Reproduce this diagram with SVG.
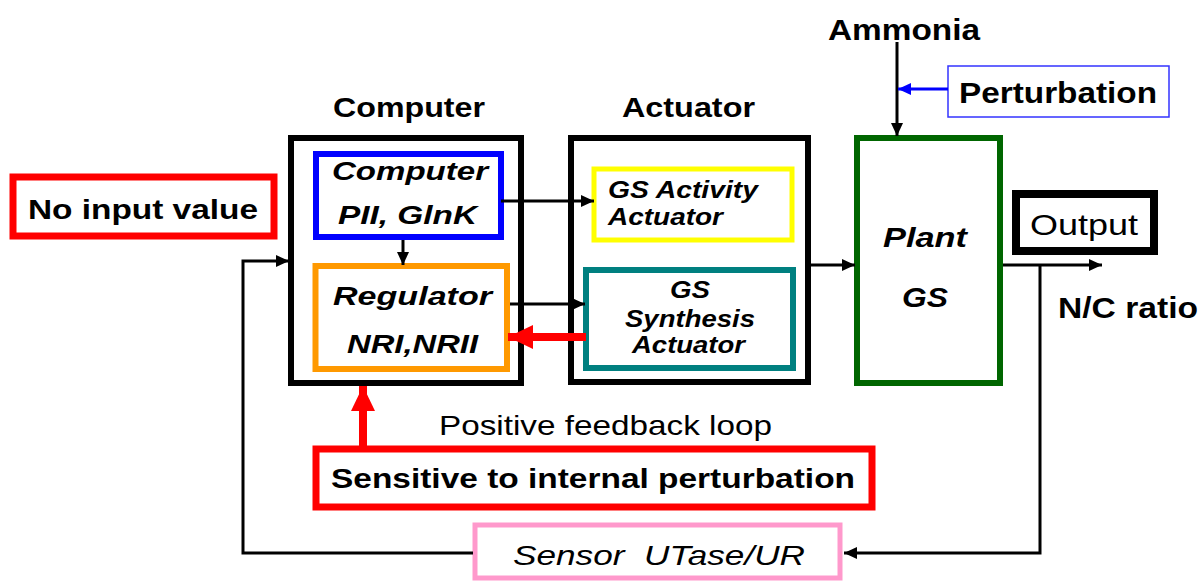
<svg xmlns="http://www.w3.org/2000/svg" width="1201" height="581" viewBox="0 0 1201 581">
  <style>
    text { font-family: "Liberation Sans", Arial, sans-serif; fill: #000; }
    .b { font-weight: bold; }
    .i { font-style: italic; }
    .box { fill: #fff; }
    .wire { fill: none; stroke: #000; stroke-width: 3; }
  </style>
  <defs>
    <marker id="ah" markerUnits="userSpaceOnUse" markerWidth="13" markerHeight="12" refX="13" refY="6" orient="auto">
      <path d="M0,0 L13,6 L0,12 z" fill="#000"/>
    </marker>
    <marker id="ahBlue" markerUnits="userSpaceOnUse" markerWidth="13" markerHeight="12" refX="13" refY="6" orient="auto">
      <path d="M0,0 L13,6 L0,12 z" fill="#0000ff"/>
    </marker>
    <marker id="ahRed" markerUnits="userSpaceOnUse" markerWidth="25" markerHeight="24" refX="25" refY="12" orient="auto">
      <path d="M0,0 L25,12 L0,24 z" fill="#ff0000"/>
    </marker>
  </defs>

  <rect width="1201" height="581" fill="#fff"/>

  <!-- column headings and free labels -->
  <g id="labels">
    <text class="b" x="333" y="117" font-size="28" textLength="152" lengthAdjust="spacingAndGlyphs">Computer</text>
    <text class="b" x="622" y="117" font-size="28" textLength="133" lengthAdjust="spacingAndGlyphs">Actuator</text>
    <text class="b" x="828" y="40" font-size="29" textLength="152" lengthAdjust="spacingAndGlyphs">Ammonia</text>
    <text class="b" x="1058" y="318" font-size="29" textLength="140" lengthAdjust="spacingAndGlyphs">N/C ratio</text>
    <text x="439" y="435" font-size="28" textLength="333" lengthAdjust="spacingAndGlyphs">Positive feedback loop</text>
  </g>

  <!-- computer block -->
  <g id="computer">
    <rect class="box" x="291" y="138" width="230" height="245" stroke="#000" stroke-width="6"/>
  </g>
  <g id="computer-pii-glnk">
    <rect class="box" x="316" y="154" width="185" height="83" stroke="#0000ff" stroke-width="6"/>
    <text class="b i" x="332" y="180" font-size="25" textLength="156" lengthAdjust="spacingAndGlyphs">Computer</text>
    <text class="b i" x="338" y="224" font-size="25" textLength="139" lengthAdjust="spacingAndGlyphs">PII, GlnK</text>
  </g>
  <g id="regulator">
    <rect class="box" x="315.5" y="266" width="191.5" height="103" stroke="#ff9900" stroke-width="6"/>
    <text class="b i" x="333" y="305" font-size="25" textLength="159" lengthAdjust="spacingAndGlyphs">Regulator</text>
    <text class="b i" x="347" y="353" font-size="25" textLength="131" lengthAdjust="spacingAndGlyphs">NRI,NRII</text>
  </g>

  <!-- actuator block -->
  <g id="actuator">
    <rect class="box" x="571" y="138" width="237" height="244" stroke="#000" stroke-width="6"/>
  </g>
  <g id="gs-activity-actuator">
    <rect class="box" x="594" y="169" width="198" height="71" stroke="#ffff00" stroke-width="5"/>
    <text class="b i" x="608" y="198" font-size="23" textLength="150" lengthAdjust="spacingAndGlyphs">GS Activity</text>
    <text class="b i" x="608" y="225" font-size="23" textLength="115" lengthAdjust="spacingAndGlyphs">Actuator</text>
  </g>
  <g id="gs-synthesis-actuator">
    <rect class="box" x="586" y="270" width="207" height="98" stroke="#008080" stroke-width="6"/>
    <text class="b i" x="670" y="298" font-size="23" textLength="40" lengthAdjust="spacingAndGlyphs">GS</text>
    <text class="b i" x="625" y="327" font-size="23" textLength="130" lengthAdjust="spacingAndGlyphs">Synthesis</text>
    <text class="b i" x="632" y="353" font-size="23" textLength="113" lengthAdjust="spacingAndGlyphs">Actuator</text>
  </g>

  <!-- plant -->
  <g id="plant">
    <rect class="box" x="857" y="138" width="143" height="245" stroke="#006600" stroke-width="6"/>
    <text class="b i" x="883" y="247" font-size="28" textLength="84" lengthAdjust="spacingAndGlyphs">Plant</text>
    <text class="b i" x="902" y="307" font-size="28" textLength="46" lengthAdjust="spacingAndGlyphs">GS</text>
  </g>

  <!-- annotations -->
  <g id="perturbation">
    <rect class="box" x="948" y="66" width="221" height="51" stroke="#3333ff" stroke-width="1.5"/>
    <text class="b" x="959" y="103" font-size="29" textLength="198" lengthAdjust="spacingAndGlyphs">Perturbation</text>
  </g>
  <g id="output">
    <rect class="box" x="1016" y="194" width="138" height="57" stroke="#000" stroke-width="8"/>
    <text x="1030" y="235" font-size="29" textLength="108" lengthAdjust="spacingAndGlyphs">Output</text>
  </g>
  <g id="no-input-value">
    <rect class="box" x="13" y="177" width="261" height="59" stroke="#ff0000" stroke-width="7"/>
    <text class="b" x="28" y="219" font-size="28" textLength="230" lengthAdjust="spacingAndGlyphs">No input value</text>
  </g>
  <g id="internal-perturbation">
    <rect class="box" x="316" y="449" width="556" height="58" stroke="#ff0000" stroke-width="7"/>
    <text class="b" x="331" y="488" font-size="28" textLength="524" lengthAdjust="spacingAndGlyphs">Sensitive to internal perturbation</text>
  </g>
  <g id="sensor">
    <rect class="box" x="475" y="525" width="365" height="53" stroke="#ff99cc" stroke-width="5"/>
    <text class="i" x="513" y="565" font-size="28" textLength="292" lengthAdjust="spacingAndGlyphs" xml:space="preserve">Sensor  UTase/UR</text>
  </g>

  <!-- connectors, drawn over the block outlines they cross -->
  <g id="connectors">
    <path class="wire" d="M501,201 H594" marker-end="url(#ah)"/>
    <path class="wire" d="M403,240 V265" marker-end="url(#ah)"/>
    <path class="wire" d="M510,304 H585" marker-end="url(#ah)"/>
    <path class="wire" d="M811,265 H855" marker-end="url(#ah)"/>
    <path class="wire" d="M1003,265 H1102" marker-end="url(#ah)"/>
    <path class="wire" d="M897,42 V136" marker-end="url(#ah)"/>
    <path class="wire" d="M1040,265 V553 H844" marker-end="url(#ah)"/>
    <path class="wire" d="M473,553 H243 V261 H289" marker-end="url(#ah)"/>
    <path fill="none" stroke="#0000ff" stroke-width="3" d="M948,89 H898" marker-end="url(#ahBlue)"/>
    <path fill="none" stroke="#ff0000" stroke-width="8" d="M586,337 H508" marker-end="url(#ahRed)"/>
    <path fill="none" stroke="#ff0000" stroke-width="8" d="M363,449 V386" marker-end="url(#ahRed)"/>
  </g>
</svg>
